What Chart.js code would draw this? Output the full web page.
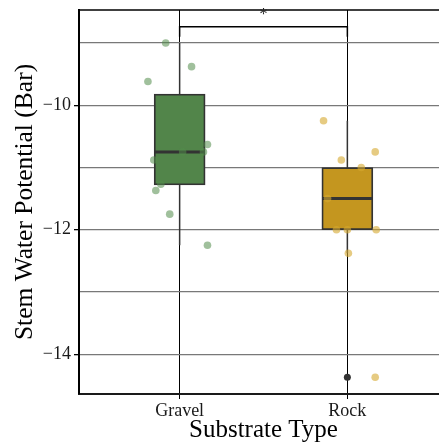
<!DOCTYPE html>
<html>
<head>
<meta charset="utf-8">
<script src="https://cdn.jsdelivr.net/npm/chart.js@4"></script>
<style>
  html, body { margin: 0; padding: 0; overflow: hidden; background: #fff; }
  canvas { display: block; }
</style>
</head>
<body>
<canvas id="myChart" width="452" height="445"></canvas>
<script>
// categories and box statistics
var categories = ['Gravel', 'Rock'];
var q1 = [-11.28, -12.0];
var medians = [-10.75, -11.5];
var q3 = [-9.82, -11.0];
var whiskerLow = [-12.25, -12.38];
var whiskerHigh = [-9.0, -10.25];
var outliers = [[], [-14.37]];

// raw observations (jittered horizontally in the figure)
var gravelValues = [-9.0, -9.38, -9.62, -10.63, -10.75, -10.75, -10.88, -11.27, -11.37, -11.75, -12.25];
var gravelJitter = [-0.083, 0.071, -0.189, 0.166, 0.018, 0.142, -0.154, -0.112, -0.142, -0.059, 0.166];
var rockValues = [-10.25, -10.75, -10.88, -11.0, -11.5, -12.0, -12.0, -12.0, -12.38, -14.37];
var rockJitter = [-0.142, 0.166, -0.036, 0.083, -0.118, -0.065, 0, 0.172, 0.006, 0.166];

// y ticks
var yTicks = [-14, -13, -12, -11, -10, -9];
var yTickLabels = ['\u221214', '', '\u221212', '', '\u221210', ''];

// significance bracket
var bracketY = -8.74;
var bracketTip = -8.9;
var sigLabel = '*';

var boxColors = ['#52854a', '#c4961f'];
var pointColors = ['rgba(82,140,74,0.55)', 'rgba(214,168,46,0.6)'];
var FONT = 'Liberation Serif';
var HALF = 0.15;

var whiskerData = [];
var medianData = [];
var boxData = [];
var outlierData = [];
categories.forEach(function (c, i) {
  var x = i + 1;
  whiskerData.push({x: x, y: whiskerHigh[i]}, {x: x, y: whiskerLow[i]}, {x: x + 0.5, y: null});
  medianData.push({x: x - HALF, y: medians[i]}, {x: x + HALF, y: medians[i]}, {x: x + 0.5, y: null});
  boxData.push({x: x, y: [q1[i], q3[i]]});
  outliers[i].forEach(function (v) { outlierData.push({x: x, y: v}); });
});

var gravelPts = gravelValues.map(function (v, i) { return {x: 1 + gravelJitter[i], y: v}; });
var rockPts = rockValues.map(function (v, i) { return {x: 2 + rockJitter[i], y: v}; });

var bracketData = [
  {x: 1, y: bracketTip}, {x: 1, y: bracketY},
  {x: 2, y: bracketY}, {x: 2, y: bracketTip}
];

var framePlugin = {
  id: 'frame',
  afterDatasetsDraw: function (chart) {
    var ctx = chart.ctx, a = chart.chartArea;
    var xs = chart.scales.x, ys = chart.scales.y;
    ctx.save();
    ctx.strokeStyle = '#000';
    ctx.lineWidth = 1.5;
    ctx.beginPath();
    ctx.moveTo(a.left, a.top);
    ctx.lineTo(a.right, a.top);
    ctx.stroke();
    ctx.fillStyle = '#222';
    ctx.font = '16px "' + FONT + '"';
    ctx.textAlign = 'center';
    ctx.textBaseline = 'middle';
    ctx.fillText(sigLabel, xs.getPixelForValue(1.5), ys.getPixelForValue(bracketY) - 12);
    ctx.restore();
  }
};

new Chart('myChart', {
  type: 'scatter',
  data: {
    datasets: [
      {
        type: 'line',
        data: whiskerData,
        borderColor: '#333',
        borderWidth: 1.5,
        pointRadius: 0,
        spanGaps: false,
        order: 6
      },
      {
        type: 'bar',
        data: boxData,
        backgroundColor: boxColors,
        borderColor: '#333',
        borderWidth: 1.8,
        borderSkipped: false,
        barThickness: 51,
        order: 5
      },
      {
        type: 'line',
        data: medianData,
        borderColor: '#333',
        borderWidth: 3,
        pointRadius: 0,
        spanGaps: false,
        order: 4
      },
      {
        data: outlierData,
        backgroundColor: '#333',
        pointRadius: 3.5,
        pointBorderWidth: 0,
        order: 3
      },
      {
        data: gravelPts,
        backgroundColor: pointColors[0],
        pointRadius: 3.8,
        pointBorderWidth: 0,
        order: 2
      },
      {
        data: rockPts,
        backgroundColor: pointColors[1],
        pointRadius: 3.8,
        pointBorderWidth: 0,
        order: 1
      },
      {
        type: 'line',
        data: bracketData,
        borderColor: '#000',
        borderWidth: 1.5,
        pointRadius: 0,
        clip: false,
        order: 0
      }
    ]
  },
  options: {
    responsive: false,
    devicePixelRatio: 1,
    animation: false,
    layout: { padding: { left: 0, top: 10, right: 2, bottom: 0 } },
    plugins: { legend: { display: false }, tooltip: { enabled: false } },
    scales: {
      x: {
        type: 'linear',
        min: 0.4,
        max: 2.6,
        offset: false,
        afterBuildTicks: function (scale) {
          scale.ticks = categories.map(function (c, i) { return {value: i + 1}; });
        },
        afterFit: function (scale) {
          scale.height = 51;
          scale.paddingLeft = 0;
          scale.paddingRight = 0;
        },
        ticks: {
          callback: function (v) { return categories[Math.round(v) - 1]; },
          font: { family: FONT, size: 18 },
          color: '#1a1a1a',
          padding: 1,
          maxRotation: 0
        },
        grid: { offset: false, color: '#000', lineWidth: 1, tickLength: 5, tickColor: '#000' },
        border: { display: true, color: '#1a1a1a', width: 2 },
        title: {
          display: true,
          text: 'Substrate Type',
          font: { family: FONT, size: 25 },
          color: '#000',
          padding: { top: 0, bottom: 0 }
        }
      },
      y: {
        min: -14.64,
        max: -8.47,
        afterBuildTicks: function (scale) {
          scale.ticks = yTicks.map(function (v) { return {value: v}; });
        },
        afterFit: function (scale) {
          scale.width = 79;
          scale.paddingTop = 0;
          scale.paddingBottom = 0;
        },
        ticks: {
          callback: function (v) { return yTickLabels[yTicks.indexOf(v)]; },
          font: { family: FONT, size: 18 },
          color: '#1a1a1a',
          padding: 3
        },
        grid: {
          color: '#787878',
          lineWidth: 1.3,
          tickLength: 5,
          tickColor: function (ctx) {
            return yTickLabels[yTicks.indexOf(ctx.tick.value)] ? '#000' : 'rgba(0,0,0,0)';
          }
        },
        border: { display: true, color: '#000', width: 2 },
        title: {
          display: true,
          text: 'Stem Water Potential (Bar)',
          font: { family: FONT, size: 25.5 },
          color: '#000',
          padding: { top: 9.5, bottom: 0 }
        }
      }
    }
  },
  plugins: [framePlugin]
});
</script>
</body>
</html>
